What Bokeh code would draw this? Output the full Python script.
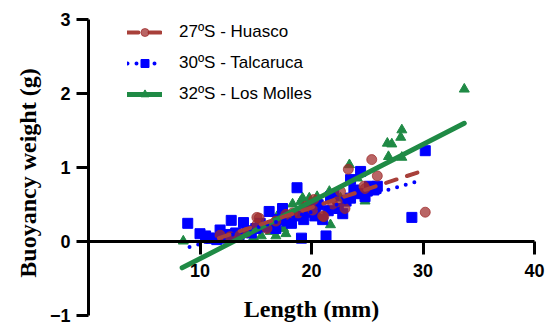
from bokeh.plotting import figure
from bokeh.models import Range1d, FixedTicker, Legend, LegendItem
from bokeh.embed import file_html
from bokeh.resources import INLINE

# ---- data ----
huasco_x = [11.8, 12.7, 13.6, 14.2, 15.1, 15.1, 15.3, 16.0, 16.8, 17.7, 18.3, 18.8, 19.5,
            20.1, 20.2, 21.0, 21.1, 21.9, 22.3, 22.6, 23.0, 23.3, 24.7, 24.8, 25.4, 25.9, 30.2]
huasco_y = [0.09, 0.07, 0.09, 0.13, 0.33, 0.23, 0.32, 0.18, 0.28, 0.37, 0.39, 0.39, 0.48,
            0.43, 0.57, 0.35, 0.34, 0.51, 0.54, 0.68, 0.45, 0.98, 0.75, 0.72, 1.11, 0.89, 0.40]

talca_x = [8.9, 10.0, 10.5, 10.8, 11.1, 11.5, 11.8, 12.0, 12.3, 12.6, 12.8, 13.2, 13.5, 13.9,
           14.2, 14.6, 15.0, 15.4, 15.8, 16.2, 16.5, 16.8, 17.1, 17.4, 17.8, 18.2, 18.7, 18.9,
           19.1, 19.3, 19.6, 20.0, 20.3, 20.6, 21.0, 21.3, 21.5, 21.7, 22.0, 22.4, 22.8, 23.1,
           23.5, 23.5, 23.8, 24.2, 24.4, 24.8, 25.2, 25.6, 25.9, 29.0, 30.2]
talca_y = [0.25, 0.11, 0.08, 0.05, 0.05, 0.03, 0.16, 0.08, 0.05, 0.10, 0.29, 0.12, 0.08, 0.26,
           0.15, 0.12, 0.18, 0.25, 0.20, 0.41, 0.22, 0.18, 0.30, 0.45, 0.28, 0.25, 0.73, 0.35,
           0.05, 0.30, 0.40, 0.45, 0.35, 0.50, 0.30, 0.08, 0.42, 0.61, 0.63, 0.45, 0.38, 0.55,
           0.84, 0.59, 0.70, 0.65, 0.95, 0.61, 0.75, 0.70, 0.75, 0.33, 1.23]

molles_x = [8.5, 13.5, 14.8, 15.5, 16.3, 16.8, 16.9, 17.5, 17.7, 18.3, 19.0, 19.2, 19.8, 20.5,
            21.6, 21.7, 22.6, 23.4, 24.1, 24.8, 26.8, 26.9, 27.2, 28.0, 28.1, 28.1, 33.7]
molles_y = [0.01, 0.05, 0.06, 0.08, 0.14, 0.08, 0.34, 0.18, 0.11, 0.51, 0.54, 0.59, 0.59, 0.61,
            0.68, 0.23, 0.59, 1.04, 0.86, 0.55, 1.33, 1.15, 1.32, 1.41, 1.51, 1.14, 2.06]

# fitted lines (end points)
huasco_fit_x = [11.7, 30.2]
huasco_fit_y = [0.05, 0.97]
talca_fit_x = [9.06, 29.8]
talca_fit_y = [-0.07, 0.83]
molles_fit_x = [8.4, 33.7]
molles_fit_y = [-0.35, 1.60]

x_ticks = [10, 20, 30, 40]
y_ticks = [-1, 0, 1, 2, 3]
labels = ["27ºS - Huasco", "30ºS - Talcaruca", "32ºS - Los Molles"]

RED = "#9e2a2a"
RED_LINE = "#a8403a"
BLUE = "#0000ff"
GREEN = "#1f8a45"

p = figure(width=554, height=326, output_backend="svg", toolbar_location=None,
           x_range=Range1d(0, 41.79), y_range=Range1d(-1.142, 3),
           min_border_left=88, min_border_right=0, min_border_top=19, min_border_bottom=0)
p.outline_line_color = None
p.grid.visible = False
p.background_fill_color = "white"
p.border_fill_color = "white"

# scatter points
r_g = p.scatter(molles_x, molles_y, marker="triangle", size=10, color=GREEN)
r_b = p.scatter(talca_x, talca_y, marker="square", size=10, color=BLUE)
r_r = p.scatter(huasco_x, huasco_y, marker="circle", size=10, color=RED, alpha=0.72)

# fit lines
l_g = p.line(molles_fit_x, molles_fit_y, line_color=GREEN, line_width=5, line_cap="round")
l_b = p.line(talca_fit_x, talca_fit_y, line_color=BLUE, line_width=4, line_cap="round",
             line_dash="0 9")
l_r = p.line(huasco_fit_x, huasco_fit_y, line_color=RED_LINE, line_width=4, line_cap="round",
             line_dash="11 11")

# axes
xa = p.xaxis[0]
xa.fixed_location = 0
xa.bounds = (0, 40)
xa.ticker = FixedTicker(ticks=x_ticks)
xa.axis_label = "Length (mm)"
ya = p.yaxis[0]
ya.bounds = (-1, 3)
ya.ticker = FixedTicker(ticks=y_ticks)
ya.axis_label = "Buoyancy weight (g)"
for ax in (xa, ya):
    ax.axis_line_width = 3
    ax.major_tick_line_width = 3
    ax.major_tick_in = 0
    ax.minor_tick_line_color = None
    ax.major_label_text_font = "Liberation Sans"
    ax.major_label_text_font_style = "bold"
    ax.major_label_text_font_size = "18px"
    ax.major_label_text_color = "black"
    ax.axis_label_text_font = "Liberation Serif"
    ax.axis_label_text_font_style = "bold"
    ax.axis_label_text_font_size = "24px"
    ax.axis_label_text_color = "black"
    ax.axis_line_color = "black"
    ax.major_tick_line_color = "black"
xa.major_tick_out = 13
xa.major_label_standoff = 9
xa.axis_label_standoff = 16
ya.major_tick_out = 12
ya.major_label_standoff = 6
ya.axis_label_standoff = 6

legend = Legend(items=[
    LegendItem(label=labels[0], renderers=[l_r, r_r]),
    LegendItem(label=labels[1], renderers=[l_b, r_b]),
    LegendItem(label=labels[2], renderers=[l_g, r_g]),
], location=(39, 222))
legend.label_text_font = "Liberation Sans"
legend.label_text_font_size = "17px"
legend.label_text_color = "black"
legend.glyph_width = 35
legend.glyph_height = 20
legend.label_height = 20
legend.spacing = 11
legend.label_standoff = 17
legend.padding = 0
legend.margin = 0
legend.border_line_color = None
legend.background_fill_alpha = 0
p.add_layout(legend)

open("out.html", "w").write(file_html(p, INLINE))
